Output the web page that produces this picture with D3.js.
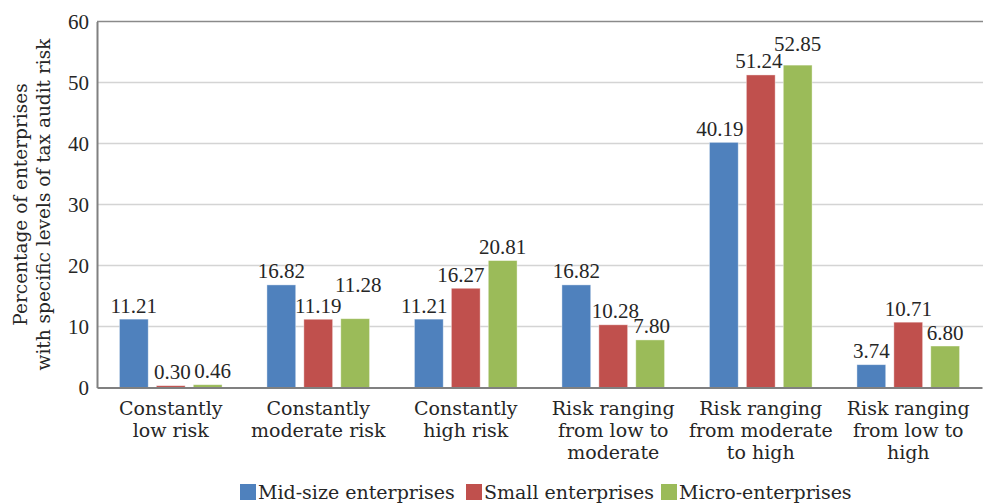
<!DOCTYPE html>
<html>
<head>
<meta charset="utf-8">
<script src="https://cdn.jsdelivr.net/npm/d3@7"></script>
<style>
  html, body { margin: 0; padding: 0; background: #fff; }
  svg { display: block; }
  .word { font-family: "DejaVu Serif", serif; fill: #262626; }
  .num { font-family: "Liberation Serif", serif; fill: #262626; }
</style>
</head>
<body>
<svg id="chart" width="983" height="504"></svg>
<script>
// categories (multi-line labels)
const categories = [
  ["Constantly", "low risk"],
  ["Constantly", "moderate risk"],
  ["Constantly", "high risk"],
  ["Risk ranging", "from low to", "moderate"],
  ["Risk ranging", "from moderate", "to high"],
  ["Risk ranging", "from low to", "high"]
];
const seriesNames = ["Mid-size enterprises", "Small enterprises", "Micro-enterprises"];
const midSize = [11.21, 16.82, 11.21, 16.82, 40.19, 3.74];
const small = [0.30, 11.19, 16.27, 10.28, 51.24, 10.71];
const micro = [0.46, 11.28, 20.81, 7.80, 52.85, 6.80];
const yTicks = [0, 10, 20, 30, 40, 50, 60];

const seriesValues = [midSize, small, micro];
const colors = ["#4F81BD", "#C0504D", "#9BBB59"];

// label nudges so overlapping labels move apart (like the original)
const labelDx = [[0, 0, -4.5, 0, -4, 0], [1.5, 0, -5, 2, -2, 0], [5, 3, 0, 1.5, 0, 0]];
const labelDy = [[0, 0, 0, 0, 0, 0], [0, 0, 0, 0, 0, 0], [0, -20, 0, 0, -8, 0]];

const svg = d3.select("#chart");
const plotLeft = 97, plotRight = 982, plotTop = 21.5, plotBottom = 387.5;

const x0 = d3.scaleBand()
  .domain(d3.range(categories.length))
  .range([plotLeft, plotRight])
  .paddingInner(0.304)
  .paddingOuter(0.152);

const x1 = d3.scaleBand()
  .domain(d3.range(seriesNames.length))
  .range([0, x0.bandwidth()])
  .paddingInner(0.22);

const y = d3.scaleLinear().domain([0, 60]).range([plotBottom, plotTop]);

// gridlines
svg.append("g")
  .selectAll("line")
  .data(yTicks.filter(d => d > 0 && d < 60))
  .enter().append("line")
  .attr("x1", plotLeft).attr("x2", 983)
  .attr("y1", d => y(d)).attr("y2", d => y(d))
  .attr("stroke", "#d4d4d4")
  .attr("stroke-width", 1.5);

// top border
svg.append("line")
  .attr("x1", plotLeft).attr("x2", 983)
  .attr("y1", y(60)).attr("y2", y(60))
  .attr("stroke", "#8a8a8a").attr("stroke-width", 1.5);

// bars
const groups = svg.append("g")
  .selectAll("g")
  .data(seriesValues)
  .enter().append("g")
  .attr("fill", (d, i) => colors[i]);

groups.selectAll("rect")
  .data((vals, s) => vals.map((v, c) => ({ v, c, s })))
  .enter().append("rect")
  .attr("x", d => x0(d.c) + x1(d.s))
  .attr("y", d => y(d.v))
  .attr("width", x1.bandwidth())
  .attr("height", d => plotBottom - y(d.v))
  .attr("stroke", "#ffffff")
  .attr("stroke-opacity", 0.5)
  .attr("stroke-width", 0.8);

// value labels
groups.selectAll("text")
  .data((vals, s) => vals.map((v, c) => ({ v, c, s })))
  .enter().append("text")
  .attr("class", "num")
  .attr("font-size", 21)
  .attr("text-anchor", "middle")
  .attr("x", d => x0(d.c) + x1(d.s) + x1.bandwidth() / 2 + labelDx[d.s][d.c])
  .attr("y", d => y(d.v) - 6.5 + labelDy[d.s][d.c])
  .text(d => d.v.toFixed(2));

// axes
const yAxis = svg.append("g")
  .attr("transform", `translate(${plotLeft},0)`)
  .call(d3.axisLeft(y).tickValues(yTicks).tickSize(0).tickPadding(8));
yAxis.select(".domain").attr("stroke", "#808080").attr("stroke-width", 2);
yAxis.selectAll("text")
  .attr("class", "num")
  .attr("font-size", 21)
  .attr("dy", "0.34em");

const xAxis = svg.append("g")
  .attr("transform", `translate(0,${plotBottom})`)
  .call(d3.axisBottom(x0).tickSize(0).tickFormat(""));
xAxis.select(".domain").attr("stroke", "#808080").attr("stroke-width", 2);

xAxis.selectAll(".tick").each(function (c) {
  const t = d3.select(this).append("text")
    .attr("class", "word")
    .attr("font-size", 19)
    .attr("text-anchor", "middle")
    .attr("fill", "#262626");
  categories[c].forEach((line, i) => {
    t.append("tspan").attr("x", 0).attr("y", 27.5 + i * 22).text(line);
  });
});

// y axis title
const title = svg.append("text")
  .attr("class", "word")
  .attr("font-size", 18.5)
  .attr("text-anchor", "middle")
  .attr("transform", `translate(0,${(plotTop + plotBottom) / 2}) rotate(-90)`);
["Percentage of enterprises", "with specific levels of tax audit risk"].forEach((line, i) => {
  title.append("tspan").attr("x", 0).attr("y", 26.5 + i * 23).text(line);
});

// legend
const legendX = [240, 466, 661];
const legend = svg.append("g")
  .selectAll("g")
  .data(seriesNames)
  .enter().append("g")
  .attr("transform", (d, i) => `translate(${legendX[i]},484)`);
legend.append("rect")
  .attr("width", 16).attr("height", 16)
  .attr("fill", (d, i) => colors[i]);
legend.append("text")
  .attr("class", "word")
  .attr("font-size", 19)
  .attr("x", 18).attr("y", 15)
  .text(d => d);
</script>
</body>
</html>
